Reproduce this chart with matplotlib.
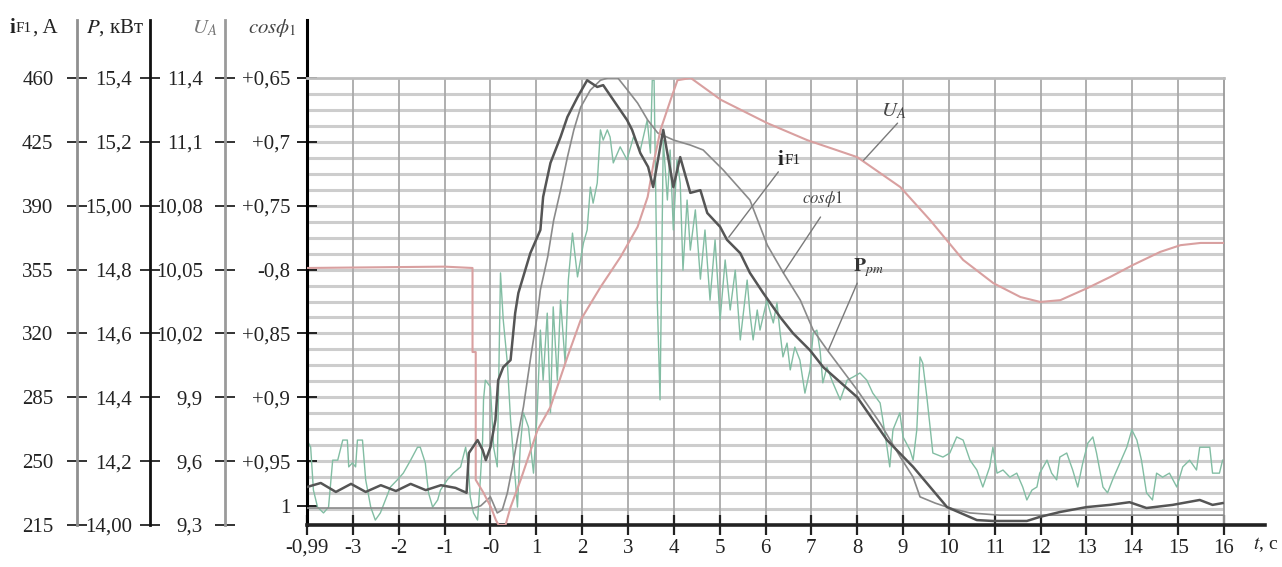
import numpy as np
import matplotlib.pyplot as plt

plt.rcParams['font.family'] = ['Liberation Serif', 'DejaVu Serif']
plt.rcParams['mathtext.fontset'] = 'stix'

W, H = 1282, 567

# time axis, s
t_ticks = list(range(-4, 17))
t_labels = ['-0,99', '-3', '-2', '-1', '-0'] + [str(i) for i in range(1, 17)]

# scale columns (bottom -> top), all share the same 7 divisions
scale_levels = np.linspace(0, 100, 8)
if1_labels = ['215', '250', '285', '320', '355', '390', '425', '460']
p_labels = ['14,00', '14,2', '14,4', '14,6', '14,8', '15,00', '15,2', '15,4']
u_labels = ['9,3', '9,6', '9,9', '10,02', '10,05', '10,08', '11,1', '11,4']
cos_levels = [4.25] + list(scale_levels[1:])
cos_labels = ['1', '+0,95', '+0,9', '+0,85', '-0,8', '+0,75', '+0,7', '+0,65']

# U_A (percent of full scale)
ua_t = [-4.0, -2.0, -1.0, -0.39, -0.39, -0.32, -0.32, -0.15, 0.01, 0.12, 0.18, 0.33,
        0.44, 0.66, 1.03, 1.31, 1.68, 1.97, 2.40, 2.84, 3.21, 3.43, 3.56, 3.71, 3.93,
        4.08, 4.37, 5.03, 6.04, 6.91, 8.00, 8.94, 9.59, 10.31, 10.97, 11.56, 11.99,
        12.43, 13.02, 13.52, 14.02, 14.61, 15.05, 15.49, 16.0]
ua_v = [57.5, 57.7, 57.8, 57.5, 38.7, 38.7, 10.1, 7.2, 4.0, 1.1, 0.0, 0.0,
        4.0, 10.1, 21.3, 26.4, 37.6, 45.9, 53.2, 60.0, 66.7, 73.4, 81.0, 88.4, 95.1,
        99.5, 100, 95.1, 89.9, 86.1, 82.3, 75.6, 68.2, 59.3, 54.1, 51.0, 49.9,
        50.3, 53.0, 55.5, 58.2, 61.1, 62.6, 63.1, 63.1]

# i_F1
if1_t = [-4.0, -3.70, -3.37, -3.04, -2.72, -2.39, -2.06, -1.74, -1.41, -1.08, -0.76,
         -0.52, -0.47, -0.28, -0.17, -0.10, 0.0, 0.11, 0.17, 0.28, 0.44, 0.54, 0.61,
         0.87, 1.09, 1.15, 1.31, 1.53, 1.68, 1.90, 2.11, 2.33, 2.46, 2.68, 2.98, 3.09,
         3.27, 3.44, 3.55, 3.77, 3.99, 4.14, 4.36, 4.58, 4.73, 5.01, 5.16, 5.45, 5.66,
         5.95, 6.32, 6.60, 6.97, 7.26, 8.00, 8.65, 9.22, 9.96, 10.61, 10.96, 11.70,
         11.98, 12.42, 13.00, 13.51, 13.94, 14.31, 14.88, 15.47, 15.75, 15.97]
if1_v = [8.5, 9.4, 7.4, 9.2, 7.4, 8.9, 7.6, 9.2, 7.8, 8.9, 8.3,
         7.2, 16.1, 19.0, 16.8, 14.5, 17.4, 23.5, 32.4, 35.3, 36.9, 47.4, 51.9,
         60.8, 66.0, 73.4, 81.0, 86.8, 91.3, 95.7, 99.5, 98.0, 98.4, 95.1, 90.6, 88.4,
         83.2, 80.1, 75.6, 88.4, 75.6, 82.3, 74.3, 74.9, 69.8, 66.7, 63.8, 60.8, 56.4,
         51.9, 46.5, 42.9, 39.1, 35.3, 28.6, 19.0, 13.0, 4.0, 1.1, 0.9, 0.9,
         1.8, 2.9, 4.0, 4.5, 5.1, 3.8, 4.5, 5.6, 4.5, 4.9]

# P_pm
p_t = [-4.0, -0.36, -0.21, 0.0, 0.15, 0.26, 0.37, 0.48, 0.61, 0.72, 0.88, 1.03, 1.09,
       1.25, 1.38, 1.53, 1.68, 1.82, 1.97, 2.18, 2.40, 2.56, 2.78, 2.99, 3.21, 3.43,
       3.65, 4.0, 4.36, 4.64, 5.08, 5.66, 6.04, 6.39, 6.76, 7.04, 7.35, 8.00, 8.50,
       8.94, 9.22, 9.37, 9.70, 10.02, 10.46, 11.11, 16.0]
p_v = [3.8, 3.8, 4.3, 6.3, 2.7, 3.4, 7.2, 13.0, 20.6, 26.4, 37.6, 47.4, 52.6,
       60.0, 68.2, 74.9, 82.3, 88.4, 93.5, 97.3, 99.5, 100, 100, 97.3, 94.4, 90.6,
       87.7, 86.1, 85.0, 83.9, 79.4, 72.7, 62.6, 56.4, 50.3, 43.6, 39.1, 30.2, 22.8,
       15.2, 10.7, 6.3, 4.9, 3.8, 2.7, 2.2, 2.2]

# cos phi_1
cos_t = [-4.0, -3.92, -3.86, -3.77, -3.64, -3.53, -3.44, -3.33, -3.22, -3.12, -3.09,
         -3.01, -2.94, -2.90, -2.79, -2.72, -2.61, -2.51, -2.40, -2.29, -2.18, -2.03,
         -1.90, -1.74, -1.59, -1.53, -1.42, -1.35, -1.26, -1.15, -1.09, -0.94, -0.81,
         -0.65, -0.54, -0.48, -0.44, -0.37, -0.28, -0.22, -0.17, -0.15, -0.11, 0.0,
         0.07, 0.15, 0.22, 0.28, 0.37, 0.44, 0.59, 0.65, 0.72, 0.83, 0.94, 1.02, 1.09,
         1.15, 1.24, 1.31, 1.37, 1.46, 1.53, 1.63, 1.70, 1.79, 1.90, 2.03, 2.11, 2.18,
         2.24, 2.33, 2.40, 2.46, 2.55, 2.61, 2.68, 2.83, 2.98, 3.12, 3.27, 3.42, 3.49,
         3.53, 3.57, 3.64, 3.70, 3.77, 3.86, 3.92, 3.99, 4.07, 4.14, 4.20, 4.29, 4.36,
         4.47, 4.58, 4.68, 4.79, 4.90, 5.01, 5.12, 5.23, 5.34, 5.45, 5.60, 5.66, 5.73,
         5.82, 5.88, 6.03, 6.17, 6.25, 6.32, 6.38, 6.47, 6.54, 6.64, 6.75, 6.86, 6.97,
         7.04, 7.12, 7.19, 7.25, 7.34, 7.47, 7.63, 7.78, 7.91, 8.06, 8.21, 8.34, 8.50,
         8.56, 8.65, 8.71, 8.78, 8.93, 9.00, 9.15, 9.22, 9.30, 9.37, 9.43, 9.52, 9.65,
         9.87, 10.02, 10.17, 10.31, 10.46, 10.61, 10.74, 10.89, 10.96, 11.05, 11.18,
         11.33, 11.48, 11.61, 11.70, 11.81, 11.92, 11.98, 12.14, 12.24, 12.35, 12.42,
         12.57, 12.70, 12.81, 12.92, 13.03, 13.14, 13.22, 13.36, 13.46, 13.57, 13.73,
         13.88, 13.99, 14.10, 14.20, 14.31, 14.44, 14.53, 14.66, 14.81, 14.97, 15.10,
         15.25, 15.40, 15.47, 15.69, 15.75, 15.90, 15.97]
cos_v = [19.0, 17.4, 7.8, 4.0, 2.7, 4.0, 14.5, 14.5, 19.0, 19.0, 13.0,
         13.9, 13.0, 19.0, 19.0, 10.1, 4.0, 1.1, 2.7, 5.6, 8.5, 10.1,
         11.6, 14.5, 17.4, 17.4, 13.9, 7.2, 4.0, 5.6, 7.8, 10.1, 11.6,
         13.0, 17.4, 13.0, 6.3, 2.7, 1.1, 10.1, 19.0, 28.0, 32.4, 30.9,
         17.4, 13.0, 56.4, 45.9, 36.2, 23.5, 4.0, 17.4, 25.1, 21.9, 11.6, 25.1, 43.6,
         32.4, 47.4, 25.1, 48.8, 32.4, 50.3, 36.2, 54.8, 65.3, 55.5, 63.1, 66.0, 75.6,
         72.0, 76.5, 88.4, 86.1, 88.4, 86.8, 81.0, 84.6, 81.7, 86.8, 83.9, 90.6, 83.2,
         99.5, 99.5, 50.3, 28.0, 86.1, 72.7, 83.9, 66.0, 81.7, 76.5, 57.0, 72.7, 61.5,
         70.5, 55.0, 66.0, 50.3, 63.8, 45.9, 59.3, 48.1, 57.0, 41.4, 54.8, 47.4, 41.4,
         48.1, 43.6, 50.3, 45.2, 49.7, 42.9, 37.6, 40.7, 34.7, 39.8, 36.9, 29.5, 34.7,
         42.9, 43.6, 39.1, 31.8, 35.3, 31.8, 28.0, 32.4, 33.1, 34.0, 32.4, 29.5, 27.3,
         23.5, 17.4, 13.0, 21.3, 25.1, 19.7, 16.8, 14.5, 21.3, 37.6, 36.2, 28.6, 16.1,
         15.2, 16.1, 19.7, 19.0, 14.5, 12.3, 8.5, 13.0, 17.4, 11.6, 12.3,
         10.7, 11.6, 8.5, 5.6, 7.8, 8.5, 11.6, 14.5, 11.6, 10.1, 15.2,
         16.1, 12.3, 8.5, 13.9, 18.3, 19.7, 16.1, 8.5, 7.2, 10.1, 13.9,
         17.4, 21.3, 19.0, 14.5, 7.2, 5.6, 11.6, 10.7, 11.6, 8.5, 13.0,
         14.5, 12.3, 17.4, 17.4, 11.6, 11.6, 14.5]

fig = plt.figure(figsize=(W / 100, H / 100), dpi=100)
bottom, height = 1 - 525 / H, 447 / H
ax = fig.add_axes([307 / W, bottom, (1224 - 307) / W, height])
ax.set_xlim(-4, 16)
ax.set_ylim(0, 100)

# background grid: 28 horizontal divisions, 1 s vertical
for k in range(1, 28):
    ax.axhline(k * 100 / 28, color='#cdcdcd', lw=2.2, zorder=0)
for t in range(-3, 16):
    ax.axvline(t, color='#a9a9a9', lw=1.3, zorder=0)

ax.plot(cos_t, cos_v, color='#82bda3', lw=1.0, zorder=2)
ax.plot(p_t, p_v, color='#8a8a8a', lw=1.2, zorder=3)
ax.plot(if1_t, if1_v, color='#555555', lw=1.8, zorder=4)
ax.plot(ua_t, ua_v, color='#d9a0a0', lw=1.5, zorder=3)

ax.spines['top'].set_color('#bdbdbd')
ax.spines['top'].set_linewidth(2)
ax.spines['right'].set_color('#9a9a9a')
ax.spines['right'].set_linewidth(1.3)
ax.spines['left'].set_linewidth(2.2)
ax.spines['left'].set_bounds(0, 113)
ax.spines['bottom'].set_linewidth(2.6)
ax.spines['bottom'].set_color('#222222')
ax.spines['bottom'].set_bounds(-4, 16.9)

ax.set_xticks(t_ticks, t_labels)
ax.set_yticks(cos_levels, cos_labels)
ax.tick_params(axis='x', direction='inout', length=14, width=1.6, pad=3,
               labelsize=15, colors='#222222')
ax.tick_params(axis='y', direction='inout', length=14, width=1.4, pad=5,
               labelsize=15, colors='#222222')


def scale_column(xpx, labels, color, pad):
    sax = fig.add_axes([xpx / W, bottom, 0.0001, height])
    sax.set_ylim(0, 100)
    sax.set_xticks([])
    for s in ['top', 'right', 'bottom']:
        sax.spines[s].set_visible(False)
    sax.spines['left'].set_bounds(0, 113)
    sax.spines['left'].set_color(color)
    sax.spines['left'].set_linewidth(2)
    sax.patch.set_visible(False)
    sax.set_yticks(scale_levels, labels)
    sax.tick_params(axis='y', direction='inout', length=14, width=1.4, pad=pad,
                    labelsize=15, color='#333333', labelcolor='#222222')
    return sax


scale_column(77, if1_labels, '#8f8f8f', 10)
scale_column(150, p_labels, '#111111', 6)
scale_column(225, u_labels, '#9a9a9a', 9)

# column headers
ty = 1 - 28 / H
fig.text(10 / W, ty, 'i', fontsize=15, fontweight='bold', va='center', color='#222222')
fig.text(16 / W, ty, 'F1', fontsize=11, va='center', color='#222222')
fig.text(33 / W, ty, ', A', fontsize=15, va='center', color='#222222')
fig.text(86 / W, ty, r'$P$, кВт', fontsize=15, va='center', color='#222222')
fig.text(205 / W, ty, r'$U_A$', fontsize=15, va='center', ha='center', color='#777777')
fig.text(272 / W, ty, r'$cos\phi_1$', fontsize=15, va='center', ha='center', color='#444444')
fig.text(1253 / W, 1 - 545 / H, r'$t$, c', fontsize=14, va='center', color='#222222')

# curve labels with leader lines
lead = dict(arrowstyle='-', color='#7a7a7a', lw=1.0, shrinkA=0, shrinkB=0)
ax.annotate('', xy=(8.14, 81.6), xytext=(8.88, 89.9), arrowprops=lead)
ax.text(8.8, 92.5, r'$U_A$', fontsize=15, ha='center', va='center', color='#444444')
ax.annotate('', xy=(5.20, 64.4), xytext=(6.28, 79.0), arrowprops=lead)
ax.text(6.27, 81.6, 'i', fontsize=15, fontweight='bold', va='center', color='#222222')
ax.text(6.41, 81.6, 'F1', fontsize=11, va='center', color='#222222')
ax.annotate('', xy=(6.39, 56.4), xytext=(7.20, 68.9), arrowprops=lead)
ax.text(7.25, 73.0, r'$cos\phi 1$', fontsize=12, ha='center', va='center', color='#444444')
ax.annotate('', xy=(7.37, 39.1), xytext=(8.0, 54.1), arrowprops=lead)
ax.text(8.25, 57.5, r'$\mathbf{P}_{pm}$', fontsize=14, ha='center', va='center', color='#333333')

fig.savefig('out.png', dpi=100)
